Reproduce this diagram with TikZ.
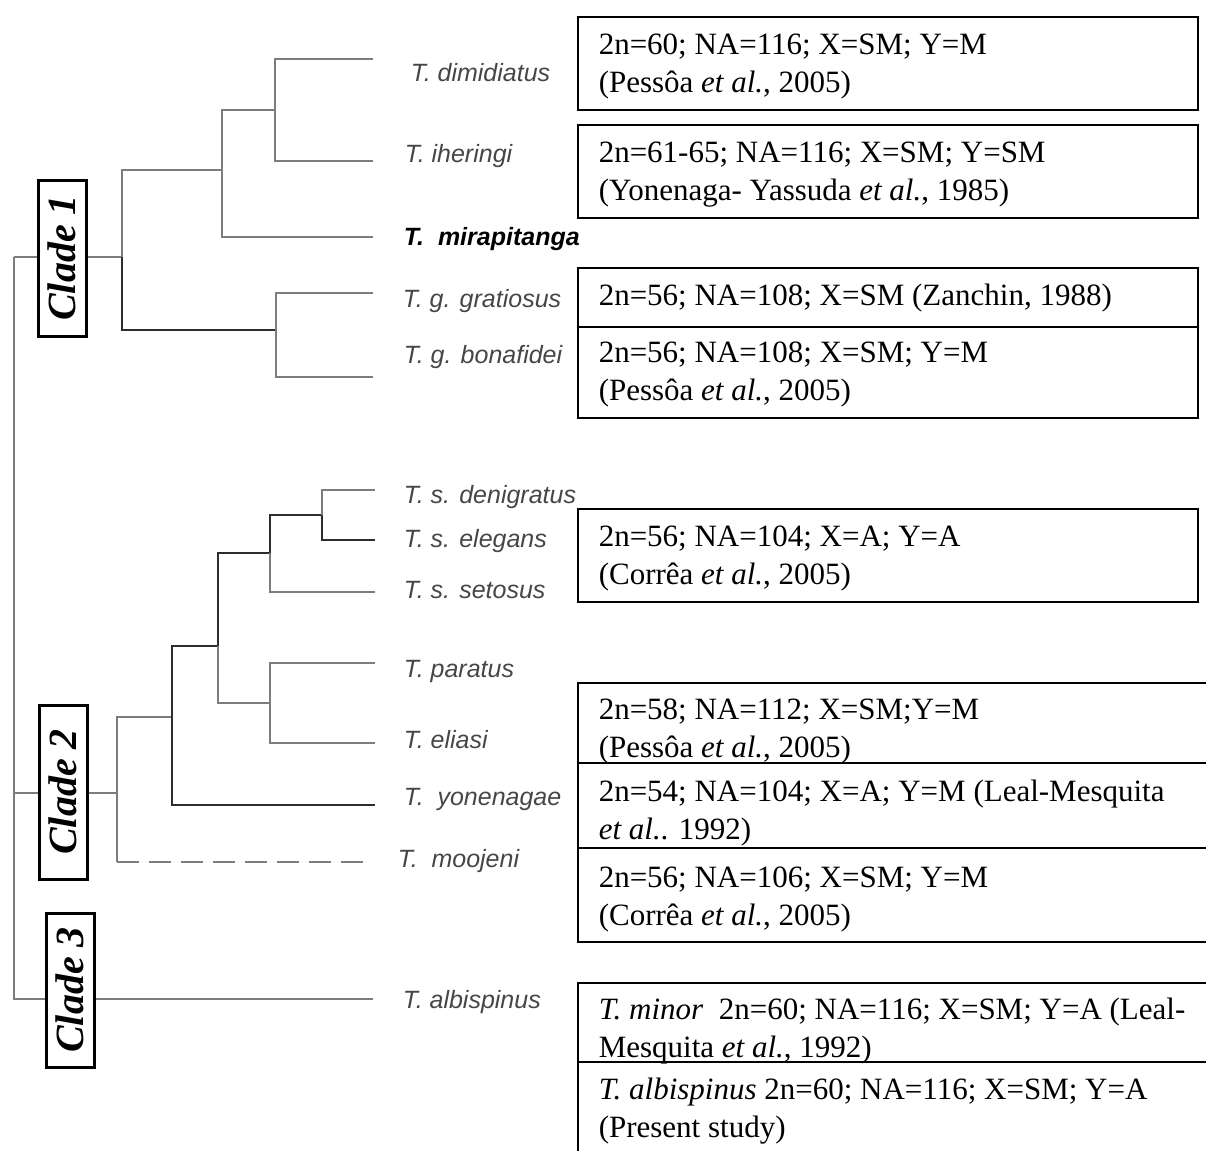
\documentclass[tikz,border=0pt]{standalone}
\usepackage{fontspec}
\setmainfont{Liberation Serif}
\setsansfont{Liberation Sans}
\definecolor{branchgray}{RGB}{125,125,125}
\definecolor{branchdark}{RGB}{45,45,45}
\definecolor{labelgray}{RGB}{70,70,70}
\tikzset{every picture/.style={line width=0.75pt}}
\tikzset{
  branch/.style={draw=branchgray, line width=1pt},
  darkbranch/.style={draw=branchdark, line width=1pt},
  taxon/.style={anchor=base west, inner sep=0pt, text=labelgray, font=\sffamily\itshape\fontsize{12.5}{15}\selectfont},
  cladebox/.style={draw=black, line width=1.5pt, fill=white, rotate=90, inner sep=0pt, minimum height=24pt, font=\bfseries\itshape\fontsize{20}{24}\selectfont},
  karyobox/.style={draw=black, line width=1pt},
  karyotext/.style={anchor=base west, inner sep=0pt, align=left, font=\fontsize{15.5}{19}\selectfont},
}

\begin{document}
\begin{tikzpicture}[x=0.5pt,y=0.5pt,yscale=-1,xscale=1]
    \useasboundingbox (0,0) rectangle (1206,1151);
    \clip (0,0) rectangle (1206,1151);

    % Inner nodes of the tree
    \coordinate (root) at (14,257);
    \coordinate (cl1) at (122,257);
    \coordinate (n1a) at (222,170);
    \coordinate (n1b) at (275,110);
    \coordinate (n1g) at (276,330);
    \coordinate (cl2) at (117,793);
    \coordinate (n2a) at (172,717);
    \coordinate (n2b) at (218,646);
    \coordinate (n2s) at (270,553);
    \coordinate (n2d) at (322,515);
    \coordinate (n2p) at (270,703);
    % Tips
    \coordinate (dim) at (373,59);
    \coordinate (ihe) at (373,161);
    \coordinate (mir) at (373,237);
    \coordinate (gra) at (373,293);
    \coordinate (bon) at (373,377);
    \coordinate (den) at (375,490);
    \coordinate (ele) at (375,540);
    \coordinate (seto) at (375,592);
    \coordinate (par) at (375,663);
    \coordinate (eli) at (375,743);
    \coordinate (yon) at (375,805);
    \coordinate (moo) at (370,862);
    \coordinate (alb) at (373,999);

    % Branches
    \draw [branch] (root) |- (cl1);
    \draw [branch] (root) |- (cl2);
    \draw [branch] (root) |- (alb);
    % Clade 1
    \draw [branch] (cl1) |- (n1a);
    \draw [darkbranch] (cl1) |- (n1g);
    \draw [branch] (n1a) |- (n1b);
    \draw [branch] (n1a) |- (mir);
    \draw [branch] (n1b) |- (dim);
    \draw [branch] (n1b) |- (ihe);
    \draw [branch] (n1g) |- (gra);
    \draw [branch] (n1g) |- (bon);
    % Clade 2
    \draw [branch] (cl2) |- (n2a);
    \draw [branch] (cl2) -- (cl2 |- moo);
    \draw [branch, dash pattern=on 11pt off 5pt] (cl2 |- moo) -- (moo);
    \draw [darkbranch] (n2a) |- (n2b);
    \draw [darkbranch] (n2a) |- (yon);
    \draw [darkbranch] (n2b) |- (n2s);
    \draw [branch] (n2b) |- (n2p);
    \draw [darkbranch] (n2s) |- (n2d);
    \draw [branch] (n2s) |- (seto);
    \draw [branch] (n2d) |- (den);
    \draw [darkbranch] (n2d) |- (ele);
    \draw [branch] (n2p) |- (par);
    \draw [branch] (n2p) |- (eli);

    % Clade boxes
    \node [cladebox, minimum width=78pt] (box1) at (62,258) {Clade 1};
    \node [cladebox, minimum width=87pt] (box2) at (63,792) {Clade 2};
    \node [cladebox, minimum width=77pt] (box3) at (70,990) {Clade 3};

    % Taxon names
    \node [taxon] (tdim) at (410,81) {T. dimidiatus};
    \node [taxon] (tihe) at (404,162) {T. iheringi};
    \node [taxon, text=black] (tmir) at (403,245) {\bfseries T.\ \ mirapitanga};
    \node [taxon] (tgra) at (402,307) {T. g. gratiosus};
    \node [taxon] (tbon) at (403,363) {T. g. bonafidei};
    \node [taxon] (tden) at (403,503) {T. s. denigratus};
    \node [taxon] (tele) at (403,547) {T. s. elegans};
    \node [taxon] (tset) at (403,598) {T. s. setosus};
    \node [taxon] (tpar) at (403,677) {T. paratus};
    \node [taxon] (teli) at (403,748) {T. eliasi};
    \node [taxon] (tyon) at (403,805) {T.\ \ yonenagae};
    \node [taxon] (tmoo) at (397,867) {T.\ \ moojeni};
    \node [taxon] (talb) at (402,1008) {T. albispinus};

    % Karyotype boxes
    \draw [karyobox] (578,17) rectangle (1198,110);
    \draw [karyobox] (578,125) rectangle (1198,218);
    \draw [karyobox] (578,268) rectangle (1198,327);
    \draw [karyobox] (578,327) rectangle (1198,418);
    \draw [karyobox] (578,509) rectangle (1198,602);
    \draw [karyobox] (578,683) rectangle (1220,763);
    \draw [karyobox] (578,763) rectangle (1220,848);
    \draw [karyobox] (578,848) rectangle (1220,942);
    \draw [karyobox] (578,983) rectangle (1220,1062);
    \draw [karyobox] (578,1062) rectangle (1220,1170);

    % Karyotype texts (placed at the baseline of their last line)
    \node [karyotext] (kdim) at (598,92) {2n=60; NA=116; X=SM; Y=M\\(Pessôa \textit{et al.}, 2005)};
    \node [karyotext] (kihe) at (598,200) {2n=61-65; NA=116; X=SM; Y=SM\\(Yonenaga- Yassuda \textit{et al.}, 1985)};
    \node [karyotext] (kgra) at (598,305) {2n=56; NA=108; X=SM (Zanchin, 1988)};
    \node [karyotext] (kbon) at (598,400) {2n=56; NA=108; X=SM; Y=M\\(Pessôa \textit{et al.}, 2005)};
    \node [karyotext] (kele) at (598,584) {2n=56; NA=104; X=A; Y=A\\(Corrêa \textit{et al.}, 2005)};
    \node [karyotext] (keli) at (598,757) {2n=58; NA=112; X=SM;Y=M\\(Pessôa \textit{et al.}, 2005)};
    \node [karyotext] (kyon) at (598,839) {2n=54; NA=104; X=A; Y=M (Leal-Mesquita\\\textit{et al.}. 1992)};
    \node [karyotext] (kmoo) at (598,925) {2n=56; NA=106; X=SM; Y=M\\(Corrêa \textit{et al.}, 2005)};
    \node [karyotext] (kmin) at (598,1057) {\textit{T. minor}\ \ 2n=60; NA=116; X=SM; Y=A (Leal-\\Mesquita \textit{et al.}, 1992)};
    \node [karyotext] (kalb) at (598,1137) {\textit{T. albispinus} 2n=60; NA=116; X=SM; Y=A\\(Present study)};
\end{tikzpicture}
\end{document}
